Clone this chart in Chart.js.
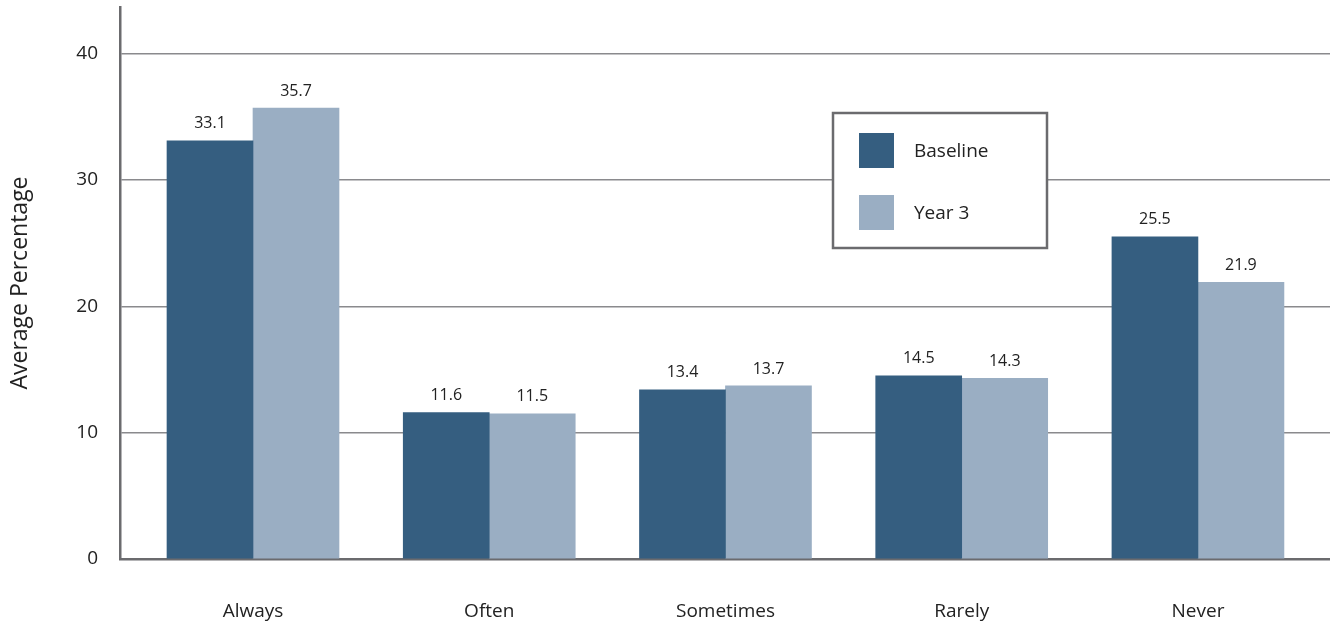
<!DOCTYPE html>
<html>
<head>
<meta charset="utf-8">
<script src="https://cdn.jsdelivr.net/npm/chart.js@4"></script>
<style>
  html, body { margin: 0; padding: 0; background: #fff; }
  #wrap { width: 1330px; height: 626px; }
</style>
</head>
<body>
<div id="wrap"><canvas id="BarChart"></canvas></div>
<script>
const categories = ['Always', 'Often', 'Sometimes', 'Rarely', 'Never'];
const baseline = [33.1, 11.6, 13.4, 14.5, 25.5];
const year3 = [35.7, 11.5, 13.7, 14.3, 21.9];
const yTicks = [0, 10, 20, 30, 40];

const FONT = '"Open Sans", "DejaVu Sans", sans-serif';

// value labels above each bar
const valueLabels = {
  id: 'valueLabels',
  afterDatasetsDraw(chart) {
    const ctx = chart.ctx;
    ctx.save();
    ctx.font = '16px ' + FONT;
    ctx.fillStyle = '#222';
    ctx.textAlign = 'center';
    ctx.textBaseline = 'middle';
    chart.data.datasets.forEach((ds, i) => {
      chart.getDatasetMeta(i).data.forEach((el, j) => {
        ctx.fillText(ds.data[j].y.toFixed(1), el.x, el.y - 17);
      });
    });
    ctx.restore();
  }
};

// boxed legend inside the plot
const boxLegend = {
  id: 'boxLegend',
  afterDraw(chart) {
    const ctx = chart.ctx;
    ctx.save();
    ctx.fillStyle = '#fff';
    ctx.fillRect(833, 113, 214, 135);
    ctx.strokeStyle = '#6b6b6e';
    ctx.lineWidth = 2.5;
    ctx.strokeRect(833, 113, 214, 135);
    ctx.font = '19px ' + FONT;
    ctx.textBaseline = 'middle';
    chart.data.datasets.forEach((ds, i) => {
      const y = 133 + i * 62;
      ctx.fillStyle = ds.backgroundColor;
      ctx.fillRect(859, y, 35, 35);
      ctx.fillStyle = '#222';
      ctx.fillText(ds.label, 914, y + 19);
    });
    ctx.restore();
  }
};

const ctx = document.getElementById('BarChart');
const myChart = new Chart(ctx, {
  type: 'bar',
  data: {
    datasets: [
      {
        label: 'Baseline',
        data: baseline.map((v, i) => ({ x: i, y: v })),
        backgroundColor: '#355e80',
        barThickness: 86
      },
      {
        label: 'Year 3',
        data: year3.map((v, i) => ({ x: i, y: v })),
        backgroundColor: '#9aaec3',
        barThickness: 86
      }
    ]
  },
  options: {
    responsive: true,
    maintainAspectRatio: false,
    animation: false,
    layout: { padding: { top: 7, right: 0, bottom: 0, left: 0 } },
    plugins: {
      legend: { display: false },
      tooltip: { enabled: false }
    },
    scales: {
      x: {
        type: 'linear',
        offset: false,
        min: -0.563,
        max: 4.559,
        afterFit(scale) {
          scale.height = 67;
          scale.paddingLeft = 0;
          scale.paddingRight = 0;
        },
        grid: { display: false, drawTicks: false },
        border: { display: true, color: '#6b6b6e', width: 2.5 },
        ticks: {
          stepSize: 1,
          includeBounds: false,
          autoSkip: false,
          maxRotation: 0,
          padding: 41,
          color: '#222',
          font: { family: FONT, size: 19 },
          callback: v => Number.isInteger(v) ? categories[v] : ''
        }
      },
      y: {
        min: 0,
        max: 43.7,
        afterFit(scale) {
          scale.width = 120;
          scale.paddingTop = 0;
          scale.paddingBottom = 0;
        },
        afterBuildTicks(scale) { scale.ticks = yTicks.map(v => ({ value: v })); },
        grid: { color: '#8a8a8d', lineWidth: 1.5, drawTicks: false },
        border: { display: true, color: '#6b6b6e', width: 2.5 },
        ticks: {
          padding: 22,
          color: '#222',
          font: { family: FONT, size: 19 }
        },
        title: {
          display: true,
          text: 'Average Percentage',
          color: '#222',
          font: { family: FONT, size: 23 },
          padding: { top: 7, bottom: 0 }
        }
      }
    }
  },
  plugins: [valueLabels, boxLegend]
});
</script>
</body>
</html>
